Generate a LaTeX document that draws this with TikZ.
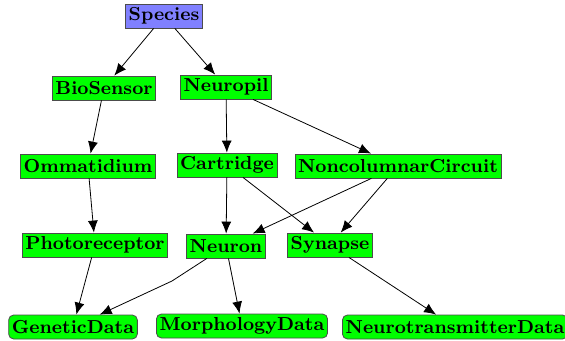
\documentclass[tikz,border=0pt]{standalone}
\usepackage{tikz}
\usetikzlibrary{arrows.meta}
\definecolor{spblue}{RGB}{128,128,255}

\tikzset{
  cls/.style={draw=black!70, fill=green, font=\fontsize{9.4}{11}\bfseries,
    inner xsep=1.6pt, inner ysep=1.5pt, minimum height=12pt},
  dat/.style={cls, rounded corners=2.5pt},
  link/.style={-{Latex[length=6pt,width=5pt]}, draw=black}
}

\begin{document}
\begin{tikzpicture}[x=0.5pt,y=-0.5pt]
    \useasboundingbox (0,0) rectangle (565,341);

    \node[cls, fill=spblue] (species) at (164,16) {Species};

    \node[cls] (biosensor) at (104,88) {BioSensor};
    \node[cls] (neuropil) at (226,87) {Neuropil};

    \node[cls] (ommatidium) at (88,166) {Ommatidium};
    \node[cls] (cartridge) at (227,165) {Cartridge};
    \node[cls] (noncol) at (398,166) {NoncolumnarCircuit};

    \node[cls] (photoreceptor) at (95,245) {Photoreceptor};
    \node[cls] (neuron) at (226,246) {Neuron};
    \node[cls] (synapse) at (330,245) {Synapse};

    \node[dat] (genetic) at (73,327) {GeneticData};
    \node[dat] (morph) at (242,326) {MorphologyData};
    \node[dat] (transm) at (455,327) {NeurotransmitterData};

    \coordinate (bend) at (172,281);

    \draw[link] (species) -- (biosensor);
    \draw[link] (species) -- (neuropil);
    \draw[link] (biosensor) -- (ommatidium);
    \draw[link] (ommatidium) -- (photoreceptor);
    \draw[link] (photoreceptor) -- (genetic);
    \draw[link] (neuropil) -- (cartridge);
    \draw[link] (neuropil) -- (noncol);
    \draw[link] (cartridge) -- (neuron);
    \draw[link] (cartridge) -- (synapse);
    \draw[link] (noncol) -- (neuron);
    \draw[link] (noncol) -- (synapse);
    \draw[link] (neuron) -- (bend) -- (genetic);
    \draw[link] (neuron) -- (morph);
    \draw[link] (synapse) -- (transm);
\end{tikzpicture}
\end{document}
